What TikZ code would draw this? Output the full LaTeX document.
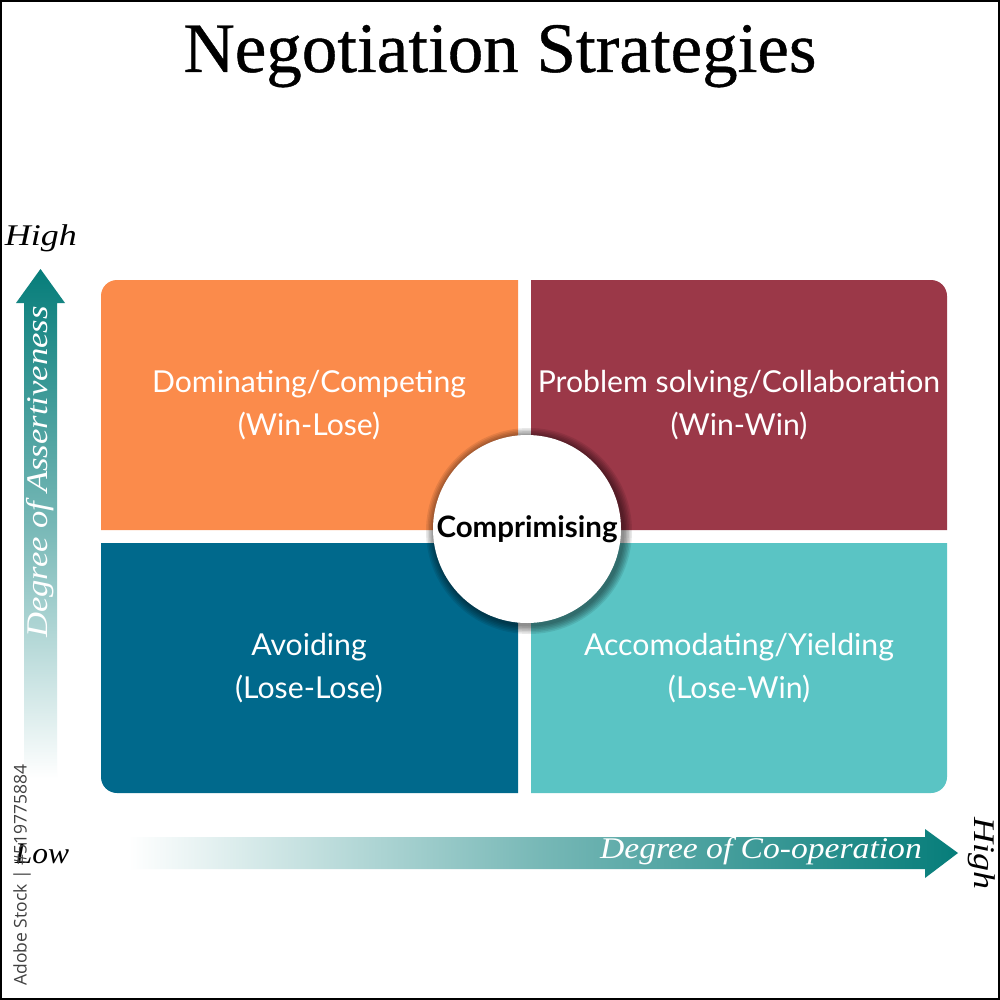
\documentclass[tikz,border=0pt]{standalone}
\usepackage{fontspec}
\setmainfont{Liberation Serif}
\newfontfamily\titlefont[FakeBold=0.6]{Liberation Serif}
\newfontfamily\bodyfont{Lato}
\newfontfamily\stockfont{Open Sans}
\definecolor{cOrange}{HTML}{FB8B4B}
\definecolor{cCrimson}{HTML}{9B3848}
\definecolor{cBlue}{HTML}{00698C}
\definecolor{cTeal}{HTML}{5AC4C4}
\definecolor{cArrow}{HTML}{067D7A}
\newcommand{\fs}[1]{\fontsize{#1}{#1}\selectfont}
\tikzset{
  x=1pt,y=-1pt,
  quadtext/.style={text=white,font=\bodyfont\fs{30.2},align=center,inner sep=0pt},
  axistext/.style={font=\itshape\fs{30},inner sep=0pt},
}
\begin{document}
\begin{tikzpicture}
\useasboundingbox (0,0) rectangle (1000,1000);
\fill[white] (0,0) rectangle (1000,1000);
\draw[black,line width=2pt] (1,1) rectangle (999,999);
\node[inner sep=0pt,anchor=base,font=\titlefont\fs{71}] (title) at (500,72) {Negotiation Strategies};

% quadrants
\fill[cOrange] (518,530) -- (101,530) [rounded corners=16pt] -- (101,280) [sharp corners] -- (518,280) -- cycle;
\fill[cCrimson] (531,530) -- (531,280) [rounded corners=16pt] -- (947,280) [sharp corners] -- (947,530) -- cycle;
\fill[cBlue] (518,543) -- (101,543) [rounded corners=16pt] -- (101,793) [sharp corners] -- (518,793) -- cycle;
\fill[cTeal] (531,543) -- (531,793) [rounded corners=16pt] -- (947,793) [sharp corners] -- (947,543) -- cycle;

\node[quadtext] (dom) at (309,405) {Dominating/Competing\\[13pt](Win-Lose)};
\node[quadtext] (prob) at (739,405) {Problem solving/Collaboration\\[13pt](Win-Win)};
\node[quadtext] (avo) at (309,668) {Avoiding\\[13pt](Lose-Lose)};
\node[quadtext] (acc) at (739,668) {Accomodating/Yielding\\[13pt](Lose-Win)};

% centre circle with soft shadow
\foreach \r in {103,101.5,100,98.5,97,95.5}{
  \fill[black,opacity=0.09] (529,531) circle[radius=\r];
}
\node[circle,fill=white,minimum size=188pt,inner sep=0pt,text=black,font=\bodyfont\bfseries\fs{29.5}] (comp) at (527,529) {Comprimising};

% vertical arrow
\shade[top color=cArrow,bottom color=white,middle color=cArrow!55!white]
  (40.5,269) -- (65,303) -- (57,303) -- (57,778) -- (24,778) -- (24,303) -- (16,303) -- cycle;
\node[axistext,text=white,rotate=90,xscale=1.155] (ya) at (40,472) {Degree of Assertiveness};
\node[axistext,text=black,xscale=1.2] (yh) at (41,238) {High};

% horizontal arrow
\shade[left color=white,right color=cArrow,middle color=cArrow!55!white]
  (128,837) -- (925,837) -- (925,829) -- (958,853) -- (925,878) -- (925,869) -- (128,869) -- cycle;
\node[axistext,text=white,xscale=1.12] (xa) at (761,851) {Degree of Co-operation};
\node[axistext,text=black,rotate=-90,xscale=1.2] (xh) at (982,853) {High};
\node[axistext,text=black,xscale=1.05] (xl) at (42,854) {Low};

\node[rotate=90,inner sep=0pt,text=black!75,font=\stockfont\fs{17.5}] (stock) at (22,875) {Adobe Stock | \#519775884};
\end{tikzpicture}
\end{document}
